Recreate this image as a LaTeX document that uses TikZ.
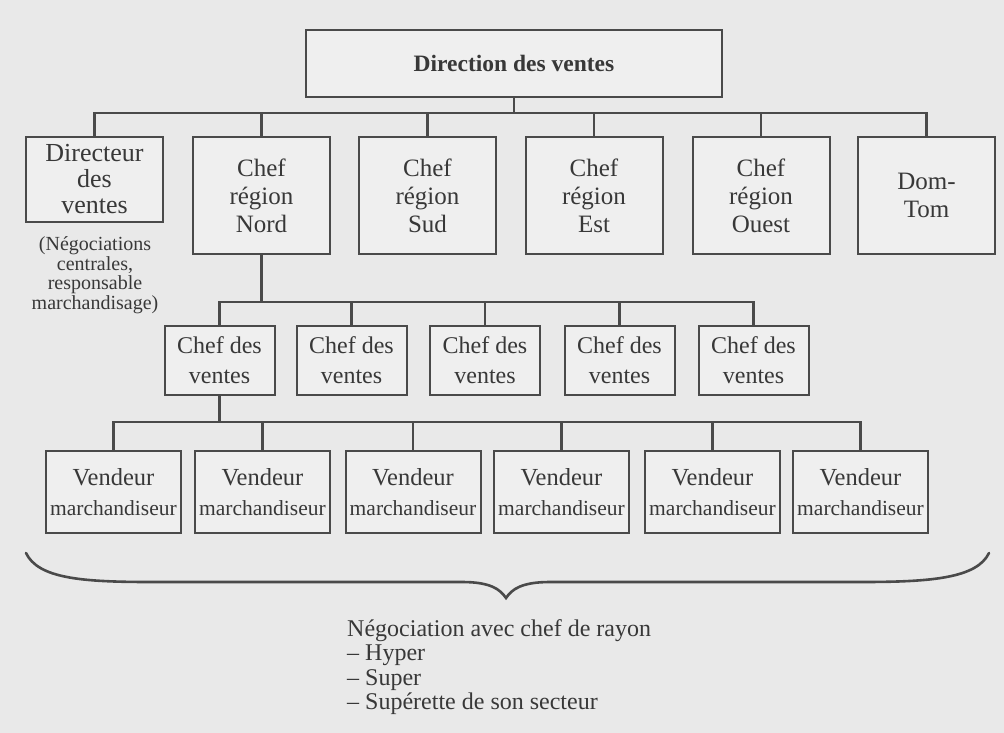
\documentclass[tikz,border=0pt]{standalone}
\usepackage{fontspec}
\setmainfont{Liberation Serif}
\definecolor{paper}{HTML}{E9E9E9}
\definecolor{boxfill}{HTML}{EFEFEF}
\definecolor{ink}{HTML}{4A4A4A}
\definecolor{textink}{HTML}{383838}
\tikzset{
	topstyle/.style={rectangle,draw=ink,fill=boxfill,line width=2pt,text=textink,minimum width=416pt,minimum height=67pt,font=\bfseries\fontsize{23.5}{24}\selectfont},
	regionstyle/.style={rectangle,draw=ink,fill=boxfill,line width=2pt,text=textink,align=center,minimum width=137pt,minimum height=117pt,inner sep=0pt,font=\fontsize{25}{28}\selectfont},
	chefstyle/.style={rectangle,draw=ink,fill=boxfill,line width=2pt,text=textink,align=center,minimum width=110pt,minimum height=69pt,inner sep=0pt,font=\fontsize{24}{30}\selectfont},
	vendstyle/.style={rectangle,draw=ink,fill=boxfill,line width=2pt,text=textink,align=center,minimum width=135pt,minimum height=82pt,inner sep=0pt,font=\fontsize{24.5}{30}\selectfont},
	notestyle/.style={text=textink,align=center,inner sep=0pt,font=\fontsize{20}{19.5}\selectfont},
	linkstyle/.style={draw=ink,line width=2.2pt}
}
\newcommand{\vendtext}{Vendeur\\{\fontsize{21.5}{30}\selectfont marchandiseur}}

\begin{document}
\begin{tikzpicture}[x=1pt,y=-1pt]
		\fill[paper] (0,0) rectangle (1004,733);
		\useasboundingbox (0,0) rectangle (1004,733);
		% top level
		\node[topstyle] (top) at (514,63.5) {Direction des ventes};
		% regions
		\node[regionstyle,minimum height=85pt,font=\fontsize{26}{26}\selectfont] (dir) at (94.5,179.5) {Directeur\\des\\ventes};
		\node[regionstyle] (nord) at (261.5,195.5) {Chef\\région\\Nord};
		\node[regionstyle] (sud) at (427.5,195.5) {Chef\\région\\Sud};
		\node[regionstyle] (est) at (594,195.5) {Chef\\région\\Est};
		\node[regionstyle] (ouest) at (761,195.5) {Chef\\région\\Ouest};
		\node[regionstyle] (domtom) at (926.5,195.5) {Dom-\\Tom};
		\node[notestyle] (note) at (95,275) {(Négociations\\centrales,\\responsable\\marchandisage)};
		% chefs des ventes
		\node[chefstyle] (cv1) at (219.5,360.5) {Chef des\\ventes};
		\node[chefstyle] (cv2) at (351.5,360.5) {Chef des\\ventes};
		\node[chefstyle] (cv3) at (485,360.5) {Chef des\\ventes};
		\node[chefstyle] (cv4) at (619.5,360.5) {Chef des\\ventes};
		\node[chefstyle] (cv5) at (753.5,360.5) {Chef des\\ventes};
		% vendeurs
		\node[vendstyle] (vm1) at (113.5,492) {\vendtext};
		\node[vendstyle] (vm2) at (262.5,492) {\vendtext};
		\node[vendstyle] (vm3) at (413,492) {\vendtext};
		\node[vendstyle] (vm4) at (561.5,492) {\vendtext};
		\node[vendstyle] (vm5) at (712.5,492) {\vendtext};
		\node[vendstyle] (vm6) at (860.5,492) {\vendtext};
		% links
		\coordinate (bus1) at (514,113);
		\coordinate (bus2) at (261.5,302);
		\coordinate (bus3) at (219.5,422);
		\draw[linkstyle] (top.south) -- (bus1);
		\foreach \n in {dir,nord,sud,est,ouest,domtom}
			\draw[linkstyle] (bus1) -| (\n.north);
		\draw[linkstyle] (nord.south) -- (bus2);
		\foreach \n in {cv1,cv2,cv3,cv4,cv5}
			\draw[linkstyle] (bus2) -| (\n.north);
		\draw[linkstyle] (cv1.south) -- (bus3);
		\foreach \n in {vm1,vm2,vm3,vm4,vm5,vm6}
			\draw[linkstyle] (bus3) -| (\n.north);
		% brace
		\coordinate (tip) at (506,598);
		\draw[linkstyle,line width=2.6pt,line cap=round] (26,553) .. controls (38,578) and (80,582) .. (150,582) -- (462,582) .. controls (490,582) and (500,589) .. (tip) .. controls (512,589) and (522,582) .. (550,582) -- (862,582) .. controls (932,582) and (977,578) .. (989,553);
		\node[text=textink,align=left,anchor=north west,inner sep=0pt,font=\fontsize{24}{24.5}\selectfont] (nego) at (347,619) {Négociation avec chef de rayon\\– Hyper\\– Super\\– Supérette de son secteur};
		\end{tikzpicture}
\end{document}
